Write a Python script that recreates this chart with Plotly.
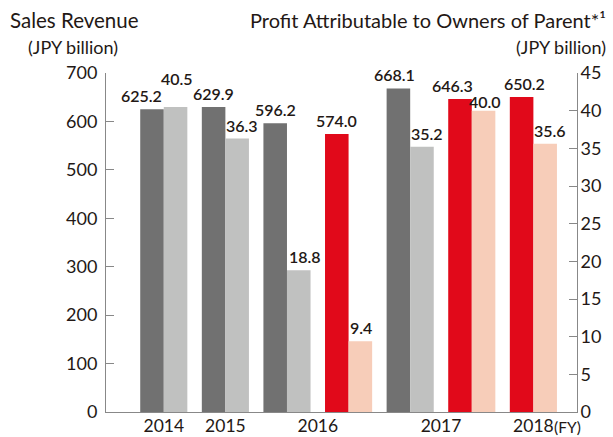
import plotly.graph_objects as go

# ---- data ----
fiscal_years = ["2014", "2015", "2016", "2016", "2017", "2017", "2018"]
standards = ["JGAAP", "JGAAP", "JGAAP", "IFRS", "JGAAP", "IFRS", "IFRS"]
sales_revenue = [625.2, 629.9, 596.2, 574.0, 668.1, 646.3, 650.2]
profit_parent = [40.5, 36.3, 18.8, 9.4, 35.2, 40.0, 35.6]

# ---- styles ----
REV_COLOR = {"JGAAP": "#717171", "IFRS": "#e1091a"}
PROF_COLOR = {"JGAAP": "#c0c1c0", "IFRS": "#f7cdb9"}
FONT = "Lato"
TXT = "#231815"
AXC = "#888888"
BARGAP = 0.235
# per-label nudges (pixels) to keep value labels from colliding, as in the original
REV_LABEL_SHIFT = [(-11, 0), (0, 0), (0, 0), (0, 0), (-4, 0), (-8, 0), (3, 0)]
PROF_LABEL_SHIFT = [(1, 15), (5, 0), (6, 0), (1, 0), (5, 0), (1, -4), (5, 0)]

idx = list(range(len(fiscal_years)))
unique_years = list(dict.fromkeys(fiscal_years))
tickvals = [sum(i for i, y in zip(idx, fiscal_years) if y == u) / fiscal_years.count(u) for u in unique_years]
half = (1 - BARGAP) / 4  # centre offset of each bar within its pair

fig = go.Figure()
fig.add_bar(
    x=idx, y=sales_revenue, yaxis="y", offsetgroup="rev",
    marker=dict(color=[REV_COLOR[s] for s in standards], line_width=0),
    showlegend=False, hoverinfo="skip",
)
fig.add_bar(
    x=idx, y=profit_parent, yaxis="y2", offsetgroup="prof",
    marker=dict(color=[PROF_COLOR[s] for s in standards], line_width=0),
    showlegend=False, hoverinfo="skip",
)

label_font = dict(family=FONT, size=16, color=TXT, weight=600)
annotations = []
for i, v, (dx, dy) in zip(idx, sales_revenue, REV_LABEL_SHIFT):
    annotations.append(dict(x=i - half, y=v, xref="x", yref="y", text=f"{v:.1f}",
                            showarrow=False, yanchor="bottom", xanchor="center",
                            xshift=dx, yshift=2 + dy, font=label_font))
for i, v, (dx, dy) in zip(idx, profit_parent, PROF_LABEL_SHIFT):
    annotations.append(dict(x=i + half, y=v, xref="x", yref="y2", text=f"{v:.1f}",
                            showarrow=False, yanchor="bottom", xanchor="center",
                            xshift=dx, yshift=2 + dy, font=label_font))

W, H = 613, 437
L, R, T, B = 106, 36, 73, 25
pw, ph = W - L - R, H - T - B

def px(x):
    return (x - L) / pw

def py(y):
    return (H - B - y) / ph

annotations += [
    dict(text="Sales Revenue", xref="paper", yref="paper", x=px(8), y=py(20),
         xanchor="left", yanchor="middle", showarrow=False, font=dict(size=20.5)),
    dict(text="(JPY billion)", xref="paper", yref="paper", x=px(26), y=py(47),
         xanchor="left", yanchor="middle", showarrow=False, font=dict(size=18)),
    dict(text="Profit Attributable to Owners of Parent*¹", xref="paper", yref="paper",
         x=px(608), y=py(20), xanchor="right", yanchor="middle", showarrow=False,
         font=dict(size=20)),
    dict(text="(JPY billion)", xref="paper", yref="paper", x=px(608), y=py(47),
         xanchor="right", yanchor="middle", showarrow=False, font=dict(size=18)),
    dict(text="(FY)", xref="paper", yref="paper", x=px(553), y=py(437),
         xanchor="left", yanchor="bottom", showarrow=False, font=dict(size=15.5),
         borderpad=0),
]

fig.update_layout(
    width=W, height=H,
    margin=dict(l=L, r=R, t=T, b=B, autoexpand=False),
    paper_bgcolor="white", plot_bgcolor="white",
    barmode="group", bargap=BARGAP, bargroupgap=0,
    font=dict(family=FONT, color=TXT),
    xaxis=dict(
        range=[-0.938, 6.708], tickvals=tickvals, ticktext=unique_years,
        showline=True, linecolor=AXC, linewidth=1, ticks="", showgrid=False,
        zeroline=False, tickfont=dict(size=17.5, color=TXT), automargin=False,
        ticklabelstandoff=-2,
    ),
    yaxis=dict(
        range=[0, 700], dtick=100, showline=True, linecolor=AXC, linewidth=1,
        ticks="inside", ticklen=8, tickcolor=AXC, showgrid=False, zeroline=False,
        tickfont=dict(size=18, color=TXT), automargin=False, ticklabelstandoff=4,
    ),
    yaxis2=dict(
        range=[0, 45], dtick=5, overlaying="y", side="right", showline=True,
        linecolor=AXC, linewidth=1, ticks="inside", ticklen=8, tickcolor=AXC,
        showgrid=False, zeroline=False, tickfont=dict(size=18, color=TXT),
        automargin=False, ticklabelstandoff=-1,
    ),
    annotations=annotations,
)

fig.write_html(
    "out.html",
    config={"displayModeBar": False},
    post_script="document.body.style.margin='0px';document.body.style.padding='0px';",
)
